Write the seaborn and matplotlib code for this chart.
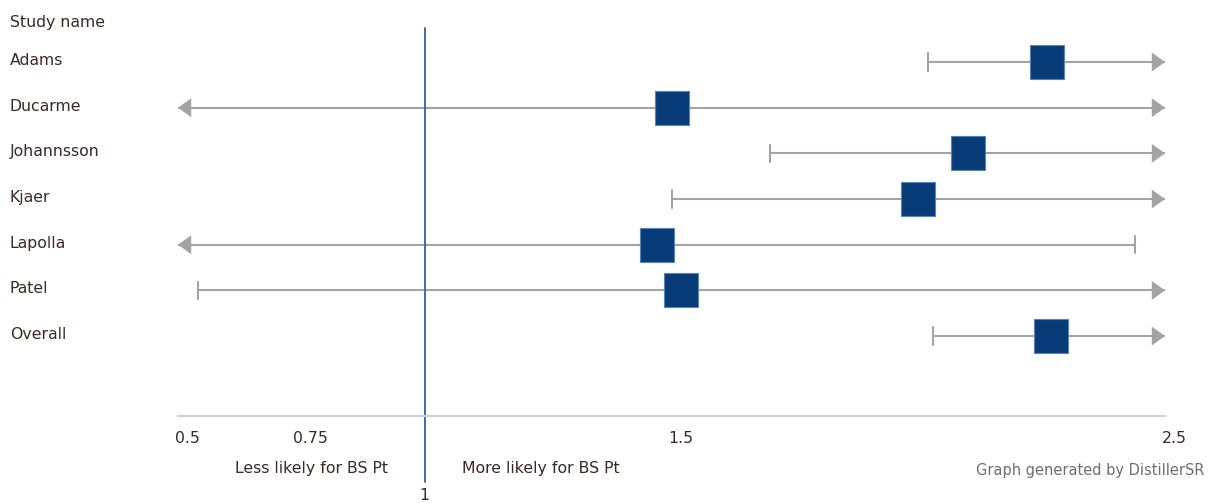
import numpy as np
import pandas as pd
import matplotlib
matplotlib.use("Agg")
import matplotlib.pyplot as plt
import matplotlib.transforms as mtransforms
import seaborn as sns

# Study-level estimates with confidence limits (ends beyond the axis are shown as arrows)
studies = ["Adams", "Ducarme", "Johannsson", "Kjaer", "Lapolla", "Patel", "Overall"]
estimate = [2.26, 1.50, 2.10, 2.00, 1.47, 1.52, 2.27]
ci_low = [2.02, 0.40, 1.70, 1.50, 0.40, 0.54, 2.03]
ci_high = [2.90, 2.90, 2.90, 2.90, 2.44, 2.90, 2.90]

tick_values = [0.5, 0.75, 1.5, 2.5]
tick_labels = ["0.5", "0.75", "1.5", "2.5"]
x_min, x_max = 0.5, 2.5
null_value = 1

df = pd.DataFrame({"study": studies, "estimate": estimate,
                   "low": ci_low, "high": ci_high})
df["row"] = np.arange(len(df))

sns.set_style("white")
plt.rcParams["font.family"] = ["DejaVu Sans"]

TEXT = "#3a2a22"
LINE = "#a3a3a3"
BOX = "#073c78"
FS = 11.3

fig = plt.figure(figsize=(12.08, 5.03), dpi=100)
ax = fig.add_axes([178 / 1208, (503 - 416) / 503, 987 / 1208, (416 - 28) / 503])

sns.scatterplot(data=df, x="estimate", y="row", marker="s", s=600, color=BOX,
                edgecolor="#5a84b4", linewidth=0.8, zorder=3, ax=ax, legend=False)

# Confidence intervals: caps where the limit is on the scale, arrows where it runs off
for _, r in df.iterrows():
    lo = max(r["low"], x_min)
    hi = min(r["high"], x_max)
    y = r["row"]
    lo_off = r["low"] < x_min
    hi_off = r["high"] > x_max
    ax.plot([lo, hi], [y, y], color=LINE, lw=1.5, solid_capstyle="butt", zorder=1,
            clip_on=False)
    arrow_kw = dict(arrowstyle="-|>,head_length=9.5,head_width=6.8",
                    color=LINE, lw=0, mutation_scale=1, shrinkA=0, shrinkB=0)
    if hi_off:
        ax.annotate("", xy=(x_max, y), xytext=(x_max - 0.05, y),
                    arrowprops=arrow_kw, annotation_clip=False, zorder=1)
    else:
        ax.plot([hi, hi], [y - 0.19, y + 0.19], color=LINE, lw=1.5, zorder=1)
    if lo_off:
        ax.annotate("", xy=(x_min, y), xytext=(x_min + 0.05, y),
                    arrowprops=arrow_kw, annotation_clip=False, zorder=1)
    else:
        ax.plot([lo, lo], [y - 0.19, y + 0.19], color=LINE, lw=1.5, zorder=1)

ax.set_xlim(x_min, x_max)
ax.set_ylim(7.75, -0.745)

# Line of no effect
ax.axvline(null_value, ymin=-0.17, ymax=1.0, color="#3a6da6", lw=1.4,
           clip_on=False, zorder=2)

# Axes styling
for side in ["top", "right", "left"]:
    ax.spines[side].set_visible(False)
ax.spines["bottom"].set_color("#d0d0d0")
ax.spines["bottom"].set_linewidth(1.5)
ax.set_xlabel("")
ax.set_ylabel("")

ax.set_xticks(tick_values)
ax.set_xticklabels(tick_labels)
ax.tick_params(axis="x", length=0, pad=10.5, labelsize=FS, labelcolor=TEXT)
shift_x = mtransforms.ScaledTranslation(9 / 100, 0, fig.dpi_scale_trans)
for lbl in ax.get_xticklabels():
    lbl.set_transform(lbl.get_transform() + shift_x)

ax.set_yticks(df["row"])
ax.set_yticklabels(df["study"])
ax.tick_params(axis="y", length=0, pad=121, labelsize=FS, labelcolor=TEXT)
shift_y = mtransforms.ScaledTranslation(0, 3 / 100, fig.dpi_scale_trans)
for lbl in ax.get_yticklabels():
    lbl.set_horizontalalignment("left")
    lbl.set_transform(lbl.get_transform() + shift_y)

# Header and annotations
fig.text(10 / 1208, 1 - 23 / 503, "Study name", ha="left", va="center",
         fontsize=FS, color=TEXT)
blend = mtransforms.blended_transform_factory(ax.transData, fig.transFigure)
ax.text(null_value, 1 - 496 / 503, "1", ha="center", va="center",
        fontsize=FS, color=TEXT, transform=blend)
ax.text(null_value - 0.075, 1 - 469 / 503, "Less likely for BS Pt", ha="right",
        va="center", fontsize=FS, color=TEXT, transform=blend)
ax.text(null_value + 0.075, 1 - 469 / 503, "More likely for BS Pt", ha="left",
        va="center", fontsize=FS, color=TEXT, transform=blend)
fig.text(1204 / 1208, 1 - 471 / 503, "Graph generated by DistillerSR", ha="right",
         va="center", fontsize=10.5, color="#6e6e6e")

fig.savefig("out.png", dpi=100)
